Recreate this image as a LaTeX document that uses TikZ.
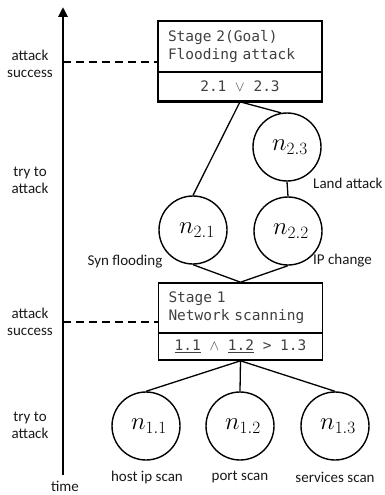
\documentclass[tikz,border=0pt]{standalone}
\usepackage{fontspec}
\setmainfont{Carlito}
\newfontfamily\monof{DejaVu Sans Mono}
\usetikzlibrary{arrows.meta}
\begin{document}
\begin{tikzpicture}[x=1pt,y=-1pt,
 lbl/.style={font=\fontsize{15}{17}\selectfont, text=black!90, align=center, inner sep=0pt},
 circ/.style={draw, line width=1.4pt, circle, minimum size=68pt, inner sep=0pt, font=\fontsize{24}{26}\selectfont},
 boxtop/.style={draw, line width=1.6pt, minimum width=164pt, minimum height=51pt, text width=144pt, align=left, inner xsep=10pt, font=\monof\fontsize{14.5}{18}\selectfont, text=black!75},
 boxbot/.style={draw, line width=1.6pt, minimum width=164pt, align=center, inner sep=0pt, font=\monof\fontsize{14.5}{18}\selectfont, text=black!75},
 conn/.style={line width=1.3pt},
 dashline/.style={line width=1.5pt, dash pattern=on 8pt off 5pt}
]
\useasboundingbox (0,0) rectangle (384,495);

% time axis
\coordinate (ax0) at (63,475);
\coordinate (ax1) at (63,7);
\draw[line width=2.8pt,-{Triangle[width=9pt,length=10pt]}] (ax0) -- (ax1);
\node[lbl] (time) at (65,486) {time};

% left labels
\node[lbl] (as2) at (30,63.5) {attack\\success};
\node[lbl] (tr2) at (30,180.5) {try to\\attack};
\node[lbl] (as1) at (30,322) {attack\\success};
\node[lbl] (tr1) at (30,425) {try to\\attack};

% stage 2
\node[boxtop] (s2) at (240,46.5) {Stage 2(Goal)\\Flooding attack};
\node[boxbot, minimum height=29pt] (s2b) at (240,86.5) {2.1 $\vee$ 2.3};
\draw[line width=3pt] (s2b.south west) -- (s2b.south east);

% stage 1
\node[boxtop, minimum height=50pt] (s1) at (240.5,308) {Stage 1\\Network scanning};
\node[boxbot, minimum height=27pt] (s1b) at (240.5,346.5) {\underline{1.1} $\wedge$ \underline{1.2} > 1.3};

% dashed lines
\coordinate (d2) at (63,62);
\coordinate (d1) at (63,322);
\draw[dashline] (d2) -- (d2 -| s2.west);
\draw[dashline] (d1) -- (d1 -| s1.west);

% circles
\node[circ] (n23) at (287,147) {\hspace{6pt}$n_{2.3}$};
\node[circ] (n22) at (288,231) {\hspace{6pt}$n_{2.2}$};
\node[circ] (n21) at (193,230) {\hspace{8pt}$n_{2.1}$};
\node[circ] (n11) at (146,426) {\hspace{6pt}$n_{1.1}$};
\node[circ] (n12) at (240,426) {\hspace{6pt}$n_{1.2}$};
\node[circ] (n13) at (335,426) {\hspace{6pt}$n_{1.3}$};

% connectors
\draw[conn] (s2b.south) -- (n21.north);
\draw[conn] (s2b.south) -- (n23.100);
\draw[conn] (n23.south) -- (n22.north);
\draw[conn] (n21.south) -- (s1.north);
\draw[conn] (n22.south) -- (s1.north);
\draw[conn] (s1b.south) -- (n11.north);
\draw[conn] (s1b.south) -- (n12.north);
\draw[conn] (s1b.south) -- (n13.north);

% node labels
\node[lbl] (l21) at (125,262) {Syn flooding};
\node[lbl, anchor=west] (l22) at (313,261) {IP change};
\node[lbl, anchor=west] (l23) at (313,183) {Land attack};
\node[lbl] (l11) at (147,477) {host ip scan};
\node[lbl] (l12) at (240,477) {port scan};
\node[lbl] (l13) at (335,477) {services scan};
\end{tikzpicture}
\end{document}
